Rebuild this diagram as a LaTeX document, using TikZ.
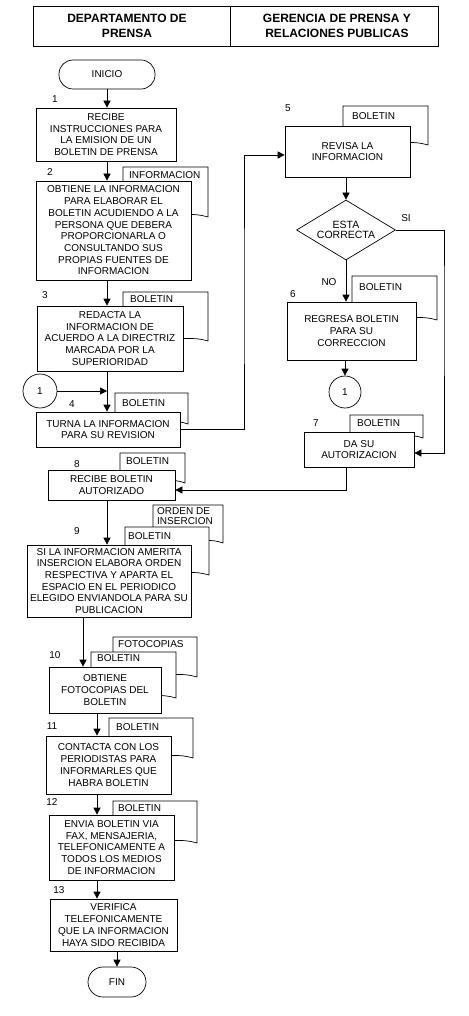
\documentclass[tikz,border=0pt]{standalone}
\usepackage{fontspec}
\setmainfont{Liberation Sans}
\usetikzlibrary{shapes.geometric,arrows.meta}
\newcommand{\flowdoc}[4]{%
  \draw[docshape] (#1,#3) -- (#2,#3) -- (#2,#4) .. controls ({#2-0.35*(#2-#1)},{#4-9}) and ({#1+0.35*(#2-#1)},{#4+9}) .. (#1,#4) -- cycle;}
\begin{document}
\begin{tikzpicture}[x=1pt,y=-1pt,
  every node/.style={font=\fontsize{10}{11.7}\selectfont},
  box/.style={draw, line width=0.7pt, fill=white, align=center, inner sep=1pt},
  term/.style={draw, line width=0.7pt, fill=white, rounded corners=14pt, inner sep=1pt},
  conn/.style={draw, circle, line width=0.7pt, fill=white, inner sep=0pt},
  dec/.style={draw, diamond, line width=0.7pt, fill=white, align=center, inner sep=0pt, aspect=1.65, font=\fontsize{10.5}{10}\selectfont},
  docshape/.style={draw, line width=0.7pt, fill=white},
  doclabel/.style={anchor=west, inner sep=0pt},
  num/.style={inner sep=0pt},
  flow/.style={line width=0.7pt},
  arr/.style={line width=0.7pt, -{Triangle[length=7pt,width=7pt]}},
  hcell/.style={draw, line width=0.7pt},
  htext/.style={font=\fontsize{12}{14.5}\selectfont\bfseries, align=center}
]
\useasboundingbox (0,0) rectangle (468,1016);
% header
\node[hcell, minimum width=197pt, minimum height=40pt] (hl) at (131.5,26) {};
\node[hcell, minimum width=208pt, minimum height=40pt] (hr) at (334,26) {};
\node[htext] (ht1) at (127,26) {DEPARTAMENTO DE\\PRENSA};
\node[htext] (ht2) at (337,26) {GERENCIA DE PRENSA Y\\RELACIONES PUBLICAS};

\coordinate (sp) at (107,0);
\coordinate (sp2) at (83,0);
\coordinate (sp3) at (97,0);
\coordinate (ta) at (244,300);
\coordinate (tb) at (444,300);

% left column
\node[term, minimum width=96pt, minimum height=29pt] (ini) at (107,74.5) {INICIO};
\node[box, minimum width=140pt, minimum height=53pt] (b1) at (106,134.5) {RECIBE\\INSTRUCCIONES PARA\\LA EMISION DE UN\\BOLETIN DE PRENSA};

\flowdoc{123}{208}{167}{217}
\node[doclabel] (l2) at (129,175) {INFORMACION};
\node[box, minimum width=155pt, minimum height=99pt] (b2) at (113.5,230.5) {OBTIENE LA INFORMACION\\PARA ELABORAR EL\\BOLETIN ACUDIENDO A LA\\PERSONA QUE DEBERA\\PROPORCIONARLA O\\CONSULTANDO SUS\\PROPIAS FUENTES DE\\INFORMACION};

\flowdoc{123}{208}{292}{341}
\node[doclabel] (l3) at (130,299) {BOLETIN};
\node[box, minimum width=146pt, minimum height=65pt] (b3) at (110,338.5) {REDACTA LA\\INFORMACION DE\\ACUERDO A LA DIRECTRIZ\\MARCADA POR LA\\SUPERIORIDAD};

\node[conn, minimum size=34pt] (c1) at (40,391) {1};

\flowdoc{115}{188}{393}{424}
\node[doclabel] (l4) at (122,403) {BOLETIN};
\node[box, minimum width=144pt, minimum height=35pt] (b4) at (108,429.5) {TURNA LA INFORMACION\\PARA SU REVISION};

% right column
\flowdoc{343}{428}{106}{145}
\node[doclabel] (l5) at (352,116) {BOLETIN};
\node[box, minimum width=125pt, minimum height=51pt] (b5) at (347.5,151.5) {REVISA LA\\INFORMACION};

\node[dec, minimum width=99pt, minimum height=60pt] (d) at (346,230) {ESTA\\CORRECTA};

\flowdoc{352}{437}{276}{320}
\node[doclabel] (l6) at (359,287) {BOLETIN};
\node[box, minimum width=129pt, minimum height=58pt] (b6) at (351.5,331) {REGRESA BOLETIN\\PARA SU\\CORRECCION};

\node[conn, minimum size=32pt] (c2) at (345,392) {1};

\flowdoc{350}{423}{415}{438}
\node[doclabel] (l7) at (357,423) {BOLETIN};
\node[box, minimum width=110pt, minimum height=35pt] (b7) at (359,449.5) {DA SU\\AUTORIZACION};

% lower left column
\flowdoc{120}{185}{453}{483}
\node[doclabel] (l8) at (126,461) {BOLETIN};
\node[box, minimum width=127pt, minimum height=30pt] (b8) at (111.5,485) {RECIBE BOLETIN\\AUTORIZADO};

\flowdoc{153}{223}{505}{543}
\node[anchor=north west, inner sep=0pt, align=left, font=\fontsize{10}{9.5}\selectfont] (l9a) at (157,507.5) {ORDEN DE\\INSERCION};
\flowdoc{125}{209}{527}{575}
\node[doclabel] (l9b) at (128,536) {BOLETIN};
\node[box, minimum width=164pt, minimum height=72pt] (b9) at (109,581) {SI LA INFORMACION AMERITA\\INSERCION ELABORA ORDEN\\RESPECTIVA Y APARTA EL\\ESPACIO EN EL PERIODICO\\ELEGIDO ENVIANDOLA PARA SU\\PUBLICACION};

\flowdoc{113}{197}{637}{677}
\node[doclabel] (l10a) at (118,644) {FOTOCOPIAS};
\flowdoc{91}{176}{652}{698}
\node[doclabel] (l10b) at (97,658) {BOLETIN};
\node[box, minimum width=112pt, minimum height=46pt] (b10) at (105,690) {OBTIENE\\FOTOCOPIAS DEL\\BOLETIN};

\flowdoc{109}{193}{718}{758}
\node[doclabel] (l11) at (116,727) {BOLETIN};
\node[box, minimum width=125pt, minimum height=58pt] (b11) at (108.5,765) {CONTACTA CON LOS\\PERIODISTAS PARA\\INFORMARLES QUE\\HABRA BOLETIN};

\flowdoc{113}{197}{801}{843}
\node[doclabel] (l12) at (118,808) {BOLETIN};
\node[box, minimum width=125pt, minimum height=65pt] (b12) at (111.5,847.5) {ENVIA BOLETIN VIA\\FAX, MENSAJERIA,\\TELEFONICAMENTE A\\TODOS LOS MEDIOS\\DE INFORMACION};

\node[box, minimum width=127pt, minimum height=52pt] (b13) at (113.5,925) {VERIFICA\\TELEFONICAMENTE\\QUE LA INFORMACION\\HAYA SIDO RECIBIDA};

\node[term, minimum width=58pt, minimum height=30pt, rounded corners=15pt] (fin) at (117,982) {FIN};

% step numbers
\node[num] (n1) at (55,99) {1};
\node[num] (n2) at (50,172) {2};
\node[num] (n3) at (45,295) {3};
\node[num] (n4) at (72,404) {4};
\node[num] (n5) at (288,108) {5};
\node[num] (n6) at (293,294) {6};
\node[num] (n7) at (316,423) {7};
\node[num] (n8) at (77,464) {8};
\node[num] (n9) at (77,531) {9};
\node[num] (n10) at (55,655) {10};
\node[num] (n11) at (52,726) {11};
\node[num] (n12) at (52,802) {12};
\node[num] (n13) at (59,890) {13};
\node[num] (si) at (406,218) {SI};
\node[num] (no) at (329,282) {NO};

% connectors
\draw[arr] (ini.south) -- (ini.south |- b1.north);
\draw[arr] (b1.south -| sp) -- (b2.north -| sp);
\draw[arr] (b2.south -| sp) -- (b3.north -| sp);
\draw[arr] (b3.south -| sp) -- (b4.north -| sp);
\draw[arr] (c1.east) -- (c1.east -| sp);
\draw[arr] (b4.east) -| (ta) |- ([yshift=-3.5pt]b5.west);
\draw[arr] (d.north |- b5.south) -- (d.north);
\draw[arr] (d.south) -- (d.south |- b6.north);
\draw[arr] (c2.north |- b6.south) -- (c2.north);
\draw[arr] (d.east) -| (tb) |- ([yshift=-3.5pt]b7.east);
\draw[arr] (b7.south -| d.center) |- ([yshift=-5pt]b8.east);
\draw[arr] (b8.south -| sp) -- (b9.north -| sp);
\draw[arr] (b9.south -| sp2) -- (b10.north -| sp2);
\draw[arr] (b10.south -| sp3) -- (b11.north -| sp3);
\draw[arr] (b11.south -| sp3) -- (b12.north -| sp3);
\draw[arr] (b12.south -| sp3) -- (b13.north -| sp3);
\draw[arr] (fin.north |- b13.south) -- (fin.north);
\end{tikzpicture}
\end{document}
